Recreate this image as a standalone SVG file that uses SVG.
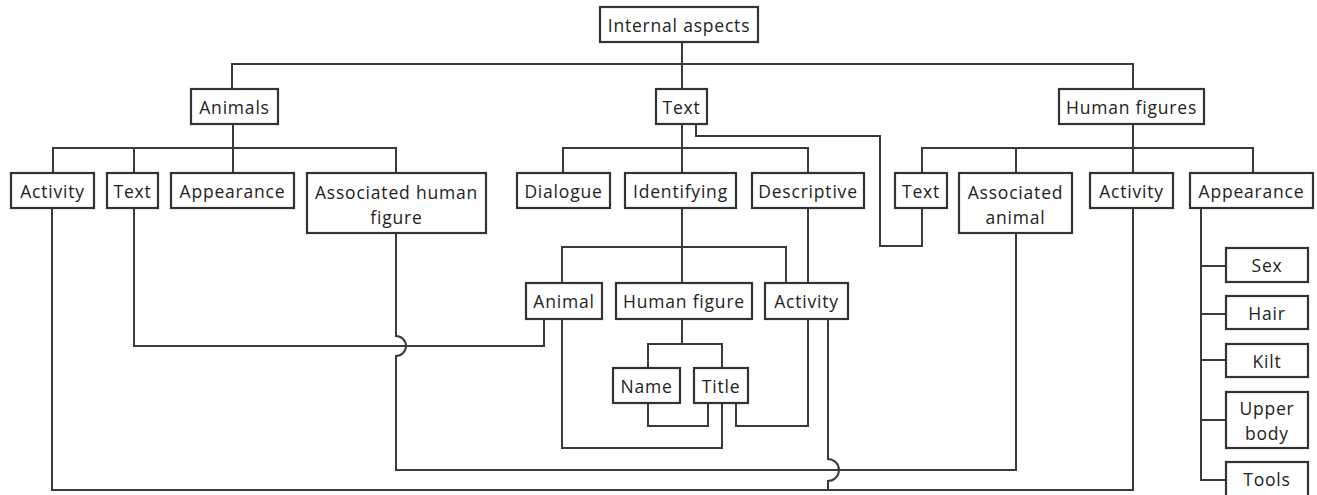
<svg xmlns="http://www.w3.org/2000/svg" width="1317" height="495" viewBox="0 0 1317 495">
<style>
.box{fill:#fff;stroke:#333;stroke-width:2.2}
.lbl{font-family:"Open Sans","Noto Sans","Liberation Sans",sans-serif;font-size:17.5px;fill:#222;text-anchor:middle;letter-spacing:0.8px}
.con{fill:none;stroke:#3a3a3a;stroke-width:2}
</style>
<rect width="1317" height="495" fill="#fff"/>
<g id="connectors">
<path class="con" d="M682,42 V89 M232,89 V64 H1133 V89"/>
<path class="con" d="M233,124 V173 M53,173 V148 H396 V173 M134,148 V173"/>
<path class="con" d="M682,124 V173 M563,173 V148 H808 V173"/>
<path class="con" d="M1133,124 V173 M922,173 V148 H1253 V173 M1016,148 V173"/>
<path class="con" d="M696,124 V136 H880 V246 H922 V208"/>
<path class="con" d="M682,208 V283 M562,283 V247 H786 V283"/>
<path class="con" d="M808,208 V283"/>
<path class="con" d="M682,319 V344 M648,368 V344 H722 V368"/>
<path class="con" d="M648,403 V426 H708 V403"/>
<path class="con" d="M736,403 V426 H808 V319"/>
<path class="con" d="M562,319 V448 H722 V403"/>
<path class="con" d="M544,319 V346 H134 V208"/>
<path class="con" d="M396,233 V336 A10,10 0 0 1 396,356 V470 H1016 V233"/>
<path class="con" d="M52,208 V490 H1133 V208"/>
<path class="con" d="M828,319 V459 A11,11 0 0 1 828,481 V490"/>
<path class="con" d="M1201,208 V480 H1226 M1201,266 H1226 M1201,314 H1226 M1201,360 H1226 M1201,420 H1226"/>
</g>
<g id="n-internal"><rect class="box" x="600" y="7" width="158" height="35"/><text class="lbl" x="679" y="31.5">Internal aspects</text></g>
<g id="n-animals"><rect class="box" x="191" y="89" width="87" height="35"/><text class="lbl" x="234.5" y="113.5">Animals</text></g>
<g id="n-text"><rect class="box" x="656" y="89" width="51" height="35"/><text class="lbl" x="681.5" y="113.5">Text</text></g>
<g id="n-human-figures"><rect class="box" x="1059" y="89" width="145" height="35"/><text class="lbl" x="1131.5" y="113.5">Human figures</text></g>
<g id="n-a-activity"><rect class="box" x="11" y="173" width="83" height="35"/><text class="lbl" x="52.5" y="197.5">Activity</text></g>
<g id="n-a-text"><rect class="box" x="107" y="173" width="51" height="35"/><text class="lbl" x="132.5" y="197.5">Text</text></g>
<g id="n-a-appearance"><rect class="box" x="171" y="173" width="123" height="35"/><text class="lbl" x="232.5" y="197.5">Appearance</text></g>
<g id="n-a-assoc"><rect class="box" x="307" y="173" width="179" height="60"/><text class="lbl" x="396.5" y="198.5">Associated human</text><text class="lbl" x="396.5" y="223.5">figure</text></g>
<g id="n-t-dialogue"><rect class="box" x="517" y="173" width="93" height="35"/><text class="lbl" x="563.5" y="197.5">Dialogue</text></g>
<g id="n-t-identifying"><rect class="box" x="625" y="173" width="111" height="35"/><text class="lbl" x="680.5" y="197.5">Identifying</text></g>
<g id="n-t-descriptive"><rect class="box" x="752" y="173" width="112" height="35"/><text class="lbl" x="808" y="197.5">Descriptive</text></g>
<g id="n-h-text"><rect class="box" x="895" y="173" width="52" height="35"/><text class="lbl" x="921" y="197.5">Text</text></g>
<g id="n-h-assoc"><rect class="box" x="959" y="173" width="113" height="60"/><text class="lbl" x="1015.5" y="198.5">Associated</text><text class="lbl" x="1015.5" y="223.5">animal</text></g>
<g id="n-h-activity"><rect class="box" x="1090" y="173" width="83" height="35"/><text class="lbl" x="1131.5" y="197.5">Activity</text></g>
<g id="n-h-appearance"><rect class="box" x="1190" y="173" width="123" height="35"/><text class="lbl" x="1251.5" y="197.5">Appearance</text></g>
<g id="n-i-animal"><rect class="box" x="526" y="283" width="76" height="36"/><text class="lbl" x="564" y="308">Animal</text></g>
<g id="n-i-human"><rect class="box" x="616" y="283" width="136" height="36"/><text class="lbl" x="684" y="308">Human figure</text></g>
<g id="n-i-activity"><rect class="box" x="765" y="283" width="83" height="36"/><text class="lbl" x="806.5" y="308">Activity</text></g>
<g id="n-name"><rect class="box" x="613" y="368" width="67" height="35"/><text class="lbl" x="646.5" y="392.5">Name</text></g>
<g id="n-title"><rect class="box" x="694" y="368" width="54" height="35"/><text class="lbl" x="721" y="392.5">Title</text></g>
<g id="n-sex"><rect class="box" x="1226" y="248" width="82" height="34"/><text class="lbl" x="1267" y="272">Sex</text></g>
<g id="n-hair"><rect class="box" x="1226" y="296" width="82" height="33"/><text class="lbl" x="1267" y="319.5">Hair</text></g>
<g id="n-kilt"><rect class="box" x="1226" y="344" width="82" height="33"/><text class="lbl" x="1267" y="367.5">Kilt</text></g>
<g id="n-upper-body"><rect class="box" x="1226" y="392" width="82" height="56"/><text class="lbl" x="1267" y="414.5">Upper</text><text class="lbl" x="1267" y="439.5">body</text></g>
<g id="n-tools"><rect class="box" x="1226" y="462" width="82" height="36"/><text class="lbl" x="1267" y="486">Tools</text></g>
</svg>
